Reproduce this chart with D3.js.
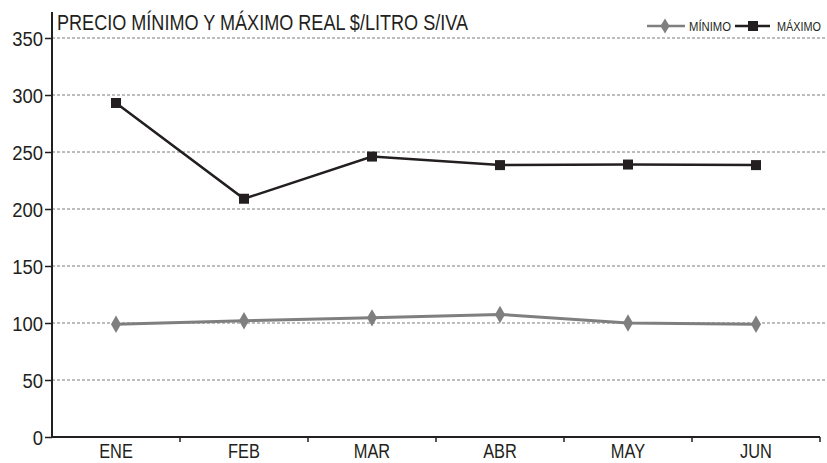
<!DOCTYPE html>
<html><head><meta charset="utf-8">
<script src="https://cdn.jsdelivr.net/npm/d3@7"></script>
<style>body{margin:0;background:#fff}svg{display:block}text{font-family:"Liberation Sans",Arial,sans-serif;fill:#231f20}</style>
</head><body><svg id="c" width="827" height="463"></svg>
<script>
const categories = ["ENE","FEB","MAR","ABR","MAY","JUN"];
const minimo = [99, 102, 104.5, 107.5, 100, 99];
const maximo = [293, 209, 246, 238.5, 239, 238.5];
const yTicks = [0,50,100,150,200,250,300,350];
const title = "PRECIO MÍNIMO Y MÁXIMO REAL $/LITRO S/IVA";
const seriesNames = ["MÍNIMO","MÁXIMO"];

const svg = d3.select("#c");
const x0 = 52, x1 = 820, yBottom = 437, yTop = 38;
const x = d3.scaleBand().domain(categories).range([x0, x1]);
const y = d3.scaleLinear().domain([0,350]).range([yBottom, yTop]);
const dark = "#231f20", grey = "#7f7f7f";

// grid
svg.append("g").selectAll("line").data(yTicks.filter(d=>d>0)).join("line")
  .attr("x1", x0).attr("x2", 827).attr("y1", d=>y(d)).attr("y2", d=>y(d))
  .attr("stroke", "#7a7a7a").attr("stroke-width", 1).attr("stroke-dasharray", "3,2");

// y axis
const ySx = 0.88;
const ya = svg.append("g").attr("transform", `translate(${x0},0)`)
  .call(d3.axisLeft(y).tickValues(yTicks).tickSize(7).tickPadding(2));
ya.select(".domain").remove();
ya.selectAll("line").attr("stroke", dark).attr("stroke-width", 1.5);
ya.selectAll("text").attr("font-size", 21).attr("fill", dark).attr("dy", "0.36em")
  .attr("x", -9/ySx).attr("transform", `scale(${ySx},1)`);
svg.append("line").attr("x1", x0).attr("x2", x0).attr("y1", 12).attr("y2", yBottom)
  .attr("stroke", dark).attr("stroke-width", 2);

// x axis
const xa = svg.append("g").attr("transform", `translate(0,${yBottom})`)
  .call(d3.axisBottom(x).tickSize(0).tickPadding(0));
xa.select(".domain").remove();
xa.selectAll("text").attr("font-size", 21).attr("fill", dark).attr("dy", null)
  .attr("y", 21.5).attr("transform", "scale(0.78,1)");
svg.append("line").attr("x1", x0).attr("x2", x1).attr("y1", yBottom).attr("y2", yBottom)
  .attr("stroke", dark).attr("stroke-width", 2);
svg.append("g").selectAll("line").data(d3.range(1, categories.length + 1)).join("line")
  .attr("x1", k => x0 + x.step()*k).attr("x2", k => x0 + x.step()*k)
  .attr("y1", yBottom).attr("y2", yBottom+5).attr("stroke", dark).attr("stroke-width", 1.5);

// lines
const cx = i => x(categories[i]) + x.bandwidth()/2;
const line = d3.line().x((d,i)=>cx(i)).y(d=>y(d));
svg.append("path").datum(minimo).attr("d", line).attr("fill","none").attr("stroke", grey).attr("stroke-width", 3);
svg.append("path").datum(maximo).attr("d", line).attr("fill","none").attr("stroke", dark).attr("stroke-width", 2.5);

const diamond = d3.symbol().type(d3.symbolDiamond).size(80);
svg.append("g").selectAll("path").data(minimo).join("path")
  .attr("d", diamond)
  .attr("transform", (d,i)=>`translate(${cx(i)},${y(d)}) scale(1.05,1.05)`)
  .attr("fill", grey);
svg.append("g").selectAll("rect").data(maximo).join("rect")
  .attr("x", (d,i)=>cx(i) - 5).attr("y", d=>y(d)-5)
  .attr("width", 10).attr("height", 10).attr("fill", dark);

// title
svg.append("text").attr("x", 57).attr("y", 30).attr("font-size", 22)
  .attr("textLength", 411).attr("lengthAdjust", "spacingAndGlyphs").text(title);

// legend
const lg = svg.append("g");
const ly = 26;
lg.append("line").attr("x1", 647).attr("x2", 685).attr("y1", ly).attr("y2", ly).attr("stroke", grey).attr("stroke-width", 2.5);
lg.append("path").attr("d", diamond).attr("transform",`translate(665,${ly}) scale(0.95,0.9)`).attr("fill", grey);
lg.append("text").attr("x", 689).attr("y", 31).attr("font-size", 12.5)
  .attr("textLength", 42).attr("lengthAdjust", "spacingAndGlyphs").text(seriesNames[0]);
lg.append("line").attr("x1", 735).attr("x2", 770).attr("y1", ly).attr("y2", ly).attr("stroke", dark).attr("stroke-width", 2.5);
lg.append("rect").attr("x", 748).attr("y", ly-5).attr("width", 10).attr("height", 10).attr("fill", dark);
lg.append("text").attr("x", 777).attr("y", 31).attr("font-size", 12.5)
  .attr("textLength", 44).attr("lengthAdjust", "spacingAndGlyphs").text(seriesNames[1]);
</script></body></html>
